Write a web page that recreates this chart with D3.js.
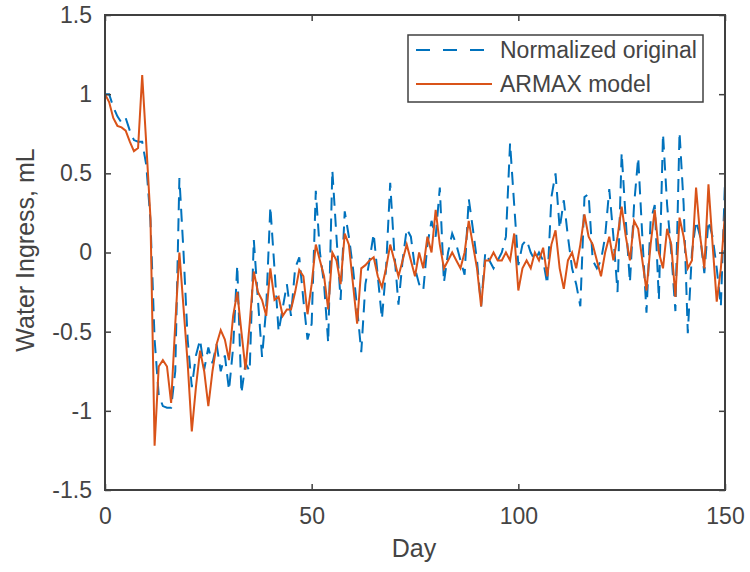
<!DOCTYPE html>
<html>
<head>
<meta charset="utf-8">
<script src="https://cdn.jsdelivr.net/npm/d3@7"></script>
<style>
  body { margin: 0; background: #fff; }
  text { font-family: Arial, "Liberation Sans", sans-serif; }
</style>
</head>
<body>
<svg id="chart" width="750" height="572"></svg>
<script>
// DATA ----------------------------------------------------------------------

// day 0..150, one value per day
var original = [
  1.00, 1.00, 0.92, 0.86, 0.82, 0.85, 0.77, 0.71, 0.70, 0.70,
  0.55, 0.20, -0.55, -0.90, -0.97, -0.98, -0.98, -0.75, 0.47, 0.00,
  -0.55, -0.85, -0.65, -0.55, -0.74, -0.60, -0.70, -0.58, -0.75, -0.65,
  -0.87, -0.60, -0.08, -0.89, -0.70, -0.75, 0.08, -0.30, -0.66, -0.35,
  0.29, -0.10, -0.50, -0.35, -0.20, -0.40, -0.10, -0.03, -0.30, -0.55,
  -0.45, 0.39, 0.00, -0.20, -0.57, 0.52, 0.10, -0.30, 0.26, 0.10,
  -0.10, -0.35, -0.63, -0.20, -0.05, 0.12, -0.15, -0.42, -0.10, 0.44,
  0.00, -0.33, -0.05, 0.15, 0.10, -0.10, -0.20, -0.24, 0.05, 0.20,
  0.10, 0.41, -0.19, 0.00, 0.12, 0.05, -0.05, -0.14, 0.34, 0.15,
  -0.05, -0.34, 0.00, -0.05, -0.10, -0.05, 0.00, 0.10, 0.69, 0.30,
  -0.08, 0.05, 0.08, 0.00, -0.05, 0.00, -0.05, -0.20, 0.35, 0.50,
  0.15, 0.33, 0.10, -0.10, -0.20, -0.34, 0.35, 0.37, -0.05, -0.10,
  -0.05, 0.10, 0.40, 0.10, -0.25, 0.63, 0.20, -0.19, 0.30, 0.60,
  0.10, -0.38, 0.20, 0.30, -0.30, 0.75, 0.30, 0.00, -0.37, 0.76,
  0.30, -0.51, 0.00, 0.20, 0.10, -0.13, 0.20, 0.10, -0.10, -0.34,
  0.45
];

var armax = [
  1.00, 0.95, 0.85, 0.80, 0.79, 0.77, 0.70, 0.64, 0.66, 1.12,
  0.68, 0.22, -1.22, -0.72, -0.68, -0.72, -0.95, -0.45, 0.00, -0.35,
  -0.70, -1.13, -0.85, -0.62, -0.75, -0.97, -0.75, -0.58, -0.49, -0.55,
  -0.68, -0.40, -0.25, -0.50, -0.74, -0.45, -0.12, -0.25, -0.30, -0.40,
  -0.10, -0.30, -0.28, -0.40, -0.36, -0.36, -0.25, -0.11, -0.15, -0.39,
  -0.20, 0.05, -0.05, -0.15, -0.36, 0.00, -0.05, -0.20, 0.12, 0.05,
  -0.20, -0.45, -0.10, -0.08, -0.05, -0.03, -0.15, -0.22, -0.10, 0.05,
  -0.05, -0.15, -0.05, 0.05, -0.05, -0.15, 0.00, -0.10, 0.10, 0.00,
  0.27, 0.05, -0.10, -0.05, 0.00, -0.05, -0.10, 0.00, 0.20, 0.05,
  -0.10, -0.34, -0.05, -0.05, 0.00, -0.05, -0.05, 0.00, -0.05, 0.12,
  -0.24, -0.10, -0.05, -0.10, 0.00, -0.05, 0.03, -0.15, 0.05, 0.14,
  -0.10, -0.23, -0.05, 0.00, -0.10, 0.05, 0.24, 0.10, 0.05, -0.05,
  -0.15, 0.00, 0.10, -0.05, 0.10, 0.29, 0.10, -0.05, 0.20, 0.15,
  -0.05, -0.24, 0.05, 0.27, 0.00, -0.10, 0.15, 0.05, -0.28, 0.22,
  0.10, -0.10, -0.05, 0.41, 0.10, -0.10, 0.43, 0.05, -0.31, -0.10,
  0.25
];

var xTicks = [0, 50, 100, 150];
var yTicks = [-1.5, -1, -0.5, 0, 0.5, 1, 1.5];
var seriesNames = ["Normalized original", "ARMAX model"];
var seriesColors = ["#0072bd", "#d95319"];

// LAYOUT --------------------------------------------------------------------

var margin = {left: 105, top: 15, right: 25, bottom: 82};
var width = 750 - margin.left - margin.right;   // 620
var height = 572 - margin.top - margin.bottom;  // 475
var axisColor = "#404040";
var textColor = "#444";
var dash = "13,8";

var svg = d3.select("#chart");
var g = svg.append("g")
    .attr("transform", "translate(" + margin.left + "," + margin.top + ")");

var x = d3.scaleLinear().domain([0, 150]).range([0, width]);
var y = d3.scaleLinear().domain([-1.5, 1.5]).range([height, 0]);

// clip so lines stay inside the box
g.append("clipPath").attr("id", "clip")
  .append("rect").attr("width", width).attr("height", height);

// SERIES --------------------------------------------------------------------

var line = d3.line()
    .x(function(d, i) { return x(i); })
    .y(function(d) { return y(d); });

var lines = g.append("g").attr("clip-path", "url(#clip)");

lines.append("path")
    .datum(original)
    .attr("d", line)
    .attr("fill", "none")
    .attr("stroke", seriesColors[0])
    .attr("stroke-width", 2)
    .attr("stroke-dasharray", dash);

lines.append("path")
    .datum(armax)
    .attr("d", line)
    .attr("fill", "none")
    .attr("stroke", seriesColors[1])
    .attr("stroke-width", 2);

// AXES ----------------------------------------------------------------------

var tickLen = 6;
var plain = function(d) { return String(d); }; // hyphen minus, like MATLAB

var xAxis = g.append("g")
    .attr("transform", "translate(0," + height + ")")
    .call(d3.axisBottom(x).tickValues(xTicks).tickSize(-tickLen).tickPadding(18)
          .tickFormat(plain));

var xTop = g.append("g")
    .call(d3.axisTop(x).tickValues(xTicks).tickSize(-tickLen).tickFormat(""));

var yAxis = g.append("g")
    .call(d3.axisLeft(y).tickValues(yTicks).tickSize(-tickLen).tickPadding(13)
          .tickFormat(plain));

var yRight = g.append("g")
    .attr("transform", "translate(" + width + ",0)")
    .call(d3.axisRight(y).tickValues(yTicks).tickSize(-tickLen).tickFormat(""));

[xAxis, xTop, yAxis, yRight].forEach(function(a) {
  a.select(".domain").remove();
  a.selectAll(".tick line").attr("stroke", axisColor).attr("stroke-width", 1.5);
  a.selectAll("text")
    .attr("fill", textColor)
    .style("font-size", "23px");
});

// box
g.append("rect")
    .attr("width", width).attr("height", height)
    .attr("fill", "none")
    .attr("stroke", axisColor)
    .attr("stroke-width", 2);

// labels
svg.append("text")
    .attr("x", 414)
    .attr("y", 557)
    .attr("text-anchor", "middle")
    .attr("fill", textColor)
    .style("font-size", "25px")
    .text("Day");

svg.append("text")
    .attr("transform", "translate(34,250) rotate(-90)")
    .attr("text-anchor", "middle")
    .attr("fill", textColor)
    .style("font-size", "25px")
    .text("Water Ingress, mL");

// LEGEND --------------------------------------------------------------------

var legend = svg.append("g").attr("transform", "translate(408,35)");

legend.append("rect")
    .attr("width", 295).attr("height", 67)
    .attr("fill", "#fff")
    .attr("stroke", axisColor)
    .attr("stroke-width", 1.5);

seriesNames.forEach(function(name, i) {
  var ly = 15 + i * 34;
  legend.append("line")
      .attr("x1", 8).attr("x2", 84)
      .attr("y1", ly).attr("y2", ly)
      .attr("stroke", seriesColors[i])
      .attr("stroke-width", 2)
      .attr("stroke-dasharray", i == 0 ? "14,13" : null);
  legend.append("text")
      .attr("x", 92)
      .attr("y", ly)
      .attr("dy", "0.35em")
      .attr("fill", textColor)
      .style("font-size", "23px")
      .text(name);
});
</script>
</body>
</html>
